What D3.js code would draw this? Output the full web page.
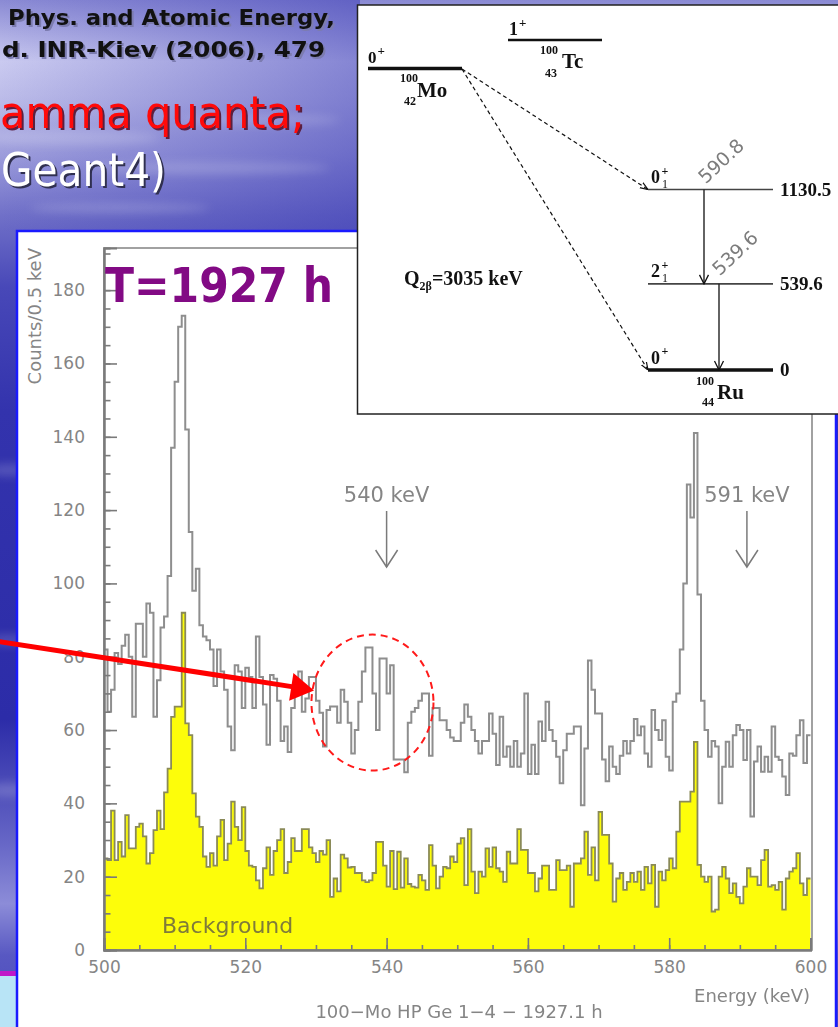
<!DOCTYPE html>
<html>
<head>
<meta charset="utf-8">
<script src="https://cdn.jsdelivr.net/npm/d3@7"></script>
<style>
  html, body { margin: 0; padding: 0; overflow: hidden; background: #ffffff; }
  svg { display: block; }
</style>
</head>
<body>
<svg id="slide" width="838" height="1027"></svg>
<script>
// ---- spectrum data: counts per 0.5 keV bin, 500-600 keV ----
const energyStart = 500;
const binWidth = 0.5;

const measuredCounts = [
  82, 65, 71, 81, 78, 83, 86, 80, 63.6, 89,
  89, 80, 94.5, 92, 63.6, 73.6, 88, 91, 102, 137,
  155, 170, 173, 142, 114, 98, 104, 88.6, 85.5, 84.5,
  82, 72, 82, 76, 71, 61, 54.5, 77.7, 76, 66,
  77, 74.5, 66, 85.5, 74.5, 67, 56, 75, 74, 68,
  57, 61, 54, 66, 72, 76, 65, 68.6, 74.5, 74.5,
  68, 64.7, 55.5, 65.5, 66.4, 66.4, 62, 71, 67.7, 62,
  53.6, 60, 67.7, 76, 82.5, 82.5, 70, 60, 79.5, 79.5,
  70, 77.7, 52, 52, 52, 48.5, 62, 65, 66, 68,
  70, 70, 53, 66, 66, 62.7, 62.7, 60, 58, 57,
  57, 62, 67, 63.6, 60, 57, 53.6, 57, 57, 64.5,
  59, 50.5, 63.6, 52.7, 55.5, 50, 57, 50, 53.6, 70,
  48, 56, 48, 62.3, 57, 67.7, 60, 57, 52.7, 45.5,
  54.5, 59, 59, 61, 61, 39.5, 55, 79, 71, 64.5,
  64.5, 52, 46, 55.5, 50, 48, 53, 57, 53.6, 57,
  63, 58.6, 61, 53.6, 50, 65.5, 60, 57.3, 62.7, 52.7,
  49, 67.7, 70, 82, 100, 127, 118, 141, 97, 68,
  60, 52.7, 57, 55.5, 40, 50, 56.8, 50, 58.6, 61.4,
  60, 51.8, 60, 36.4, 51.4, 55.5, 48.6, 52.7, 48.6, 61,
  52.7, 51.8, 47.3, 42.3, 53.6, 53, 58.6, 62.7, 51, 58.6
];

const backgroundCounts = [
  25, 24.5, 38, 24.5, 29.5, 25.5, 36.8, 27.7, 27.7, 33.6,
  34.5, 31, 23.6, 26.4, 32.7, 38, 33, 43, 49.5, 63.6,
  66.4, 66.4, 92, 61.8, 58.6, 42.7, 36.4, 33.6, 25.5, 22.7,
  26.4, 23, 31, 35.5, 24.5, 29, 40.5, 33.6, 30, 39,
  27, 23, 22.7, 19, 16.8, 22.3, 28, 20.5, 27, 30,
  33, 21, 24, 30.5, 27, 27, 33, 33, 28, 26.4,
  24, 27, 26, 30, 14.5, 19.5, 16, 26, 25, 22.5,
  22.7, 21, 21, 19, 18.5, 19, 21, 29.5, 29.5, 23,
  17.3, 27, 16.6, 26.8, 17, 25, 18, 17.3, 17, 20.5,
  19, 16.4, 28.6, 23, 16.8, 20, 22.7, 22.3, 25.5, 24,
  29, 30.5, 17.7, 33, 21.4, 15.5, 21.4, 20, 27.7, 22.7,
  28, 22.3, 21.4, 18.6, 26.8, 23.6, 23.6, 33, 27.3, 27.3,
  21, 21, 16, 19.5, 23, 23, 16.4, 16.4, 24.5, 21.8,
  21.8, 23, 11.8, 23.6, 23.6, 25, 32.3, 20.5, 28, 19,
  37.7, 31.4, 31.4, 23.6, 13.2, 19.5, 21, 16.4, 18.6, 21,
  18.6, 21.4, 16.4, 22.7, 18.2, 23.2, 11.8, 21.4, 19, 21.8,
  25, 22.3, 32.3, 40.5, 40.5, 40.5, 43.2, 56.8, 23.2, 20,
  18.6, 20, 10.5, 11, 20, 22.7, 19.5, 15.5, 18.2, 14.5,
  12.7, 17.3, 22.3, 20, 20, 17.7, 24.5, 27.3, 17.3, 17.7,
  16.4, 18.6, 11, 19.5, 21.4, 22.3, 26.4, 18.2, 15, 19.5
];

const yMajorTicks = [0, 20, 40, 60, 80, 100, 120, 140, 160, 180];
const xMajorTicks = [500, 520, 540, 560, 580, 600];
const expectedLines = [540, 591];           // keV, marked by arrows
const highlightEnergy = 538;                // centre of the dashed ring
const highlightCounts = 67.5;

// ---- decay scheme data ----
const daughterLevels = [
  { energy: 1130.5, spin: "0", sub: "1", label: "1130.5", heavy: false },
  { energy: 539.6,  spin: "2", sub: "1", label: "539.6",  heavy: false },
  { energy: 0,      spin: "0", sub: "",  label: "0",      heavy: true }
];
const gammaLines = [
  { from: 1130.5, to: 539.6, label: "590.8" },
  { from: 539.6,  to: 0,     label: "539.6" }
];

// ---------------------------------------------------------------
const svg = d3.select("#slide");
const defs = svg.append("defs");

// slide background
const bgGrad = defs.append("linearGradient").attr("id", "slideBg")
  .attr("x1", 0).attr("y1", 0).attr("x2", 0).attr("y2", 1);
[[0, "#8a8ad4"], [0.06, "#cacaf0"], [0.1, "#babae8"], [0.15, "#9d9ddc"],
 [0.21, "#7070c8"], [0.28, "#4848b8"], [0.4, "#3333ad"], [0.7, "#2c2ca8"],
 [0.82, "#6666c6"], [0.88, "#8c8cd8"], [0.93, "#5858c2"], [1, "#4a4abb"]]
  .forEach(([o, c]) => bgGrad.append("stop").attr("offset", o).attr("stop-color", c));
const shade = defs.append("linearGradient").attr("id", "slideShade")
  .attr("x1", 0).attr("y1", 0).attr("x2", 1).attr("y2", 0);
shade.append("stop").attr("offset", 0).attr("stop-color", "#3030b0").attr("stop-opacity", 0);
shade.append("stop").attr("offset", 1).attr("stop-color", "#3030b0").attr("stop-opacity", 0.45);
defs.append("filter").attr("id", "soft").attr("x", "-50%").attr("y", "-50%")
  .attr("width", "200%").attr("height", "200%")
  .append("feGaussianBlur").attr("stdDeviation", 5);

svg.append("rect").attr("width", 838).attr("height", 1027).attr("fill", "url(#slideBg)");
svg.append("rect").attr("width", 360).attr("height", 232).attr("fill", "url(#slideShade)");
const streaks = [[70, 138, 90, 7], [210, 168, 120, 6], [120, 208, 90, 5], [260, 120, 80, 5],
                 [8, 470, 20, 6], [8, 640, 20, 5], [8, 790, 20, 7]];
svg.append("g").attr("filter", "url(#soft)").selectAll("ellipse").data(streaks).join("ellipse")
  .attr("cx", d => d[0]).attr("cy", d => d[1]).attr("rx", d => d[2]).attr("ry", d => d[3])
  .attr("fill", "#ffffff").attr("opacity", 0.18);
svg.append("rect").attr("x", 0).attr("y", 971).attr("width", 17).attr("height", 5).attr("fill", "#c018c8");
svg.append("rect").attr("x", 0).attr("y", 976).attr("width", 17).attr("height", 51).attr("fill", "#b8e4f6");

// chart panel
svg.append("rect").attr("x", 17).attr("y", 231).attr("width", 819).attr("height", 810)
  .attr("fill", "#ffffff").attr("stroke", "#1a1aff").attr("stroke-width", 2.5);

// ---- spectrum ----
const x = d3.scaleLinear().domain([500, 600]).range([104, 810.5]);
const y = d3.scaleLinear().domain([0, 191.5]).range([950, 248]);
const plot = svg.append("g");

const toPoints = arr => {
  const pts = arr.map((v, i) => [energyStart + i * binWidth, v]);
  pts.push([energyStart + arr.length * binWidth, arr[arr.length - 1]]);
  return pts;
};
const bgPts = toPoints(backgroundCounts);
const msPts = toPoints(measuredCounts);

plot.append("path").datum(bgPts)
  .attr("d", d3.area().x(d => x(d[0])).y0(y(0)).y1(d => y(d[1])).curve(d3.curveStepAfter))
  .attr("fill", "#fdfd0a");
plot.append("path").datum(bgPts)
  .attr("d", d3.line().x(d => x(d[0])).y(d => y(d[1])).curve(d3.curveStepAfter))
  .attr("fill", "none").attr("stroke", "#8a8a58").attr("stroke-width", 1.8);
plot.append("path").datum(msPts)
  .attr("d", d3.line().x(d => x(d[0])).y(d => y(d[1])).curve(d3.curveStepAfter))
  .attr("fill", "none").attr("stroke", "#8e8e8e").attr("stroke-width", 2);

// frame
plot.append("rect").attr("x", 104).attr("y", 248).attr("width", 708).attr("height", 702)
  .attr("fill", "none").attr("stroke", "#8a8a8a").attr("stroke-width", 1.6);

const axisFont = "'DejaVu Sans', sans-serif";
const gray = "#858585";

// y axis (ticks point into the plot)
const yMinor = d3.range(0, 191, 5);
const yAxisMinor = plot.append("g").attr("transform", "translate(104,0)")
  .call(d3.axisLeft(y).tickValues(yMinor).tickSize(-6.5).tickFormat(""));
const yAxis = plot.append("g").attr("transform", "translate(104,0)")
  .call(d3.axisLeft(y).tickValues(yMajorTicks).tickSize(-13).tickPadding(19));
[yAxisMinor, yAxis].forEach(g => {
  g.select(".domain").attr("stroke", "#7a7a7a").attr("stroke-width", 2);
  g.selectAll(".tick line").attr("stroke", "#7a7a7a").attr("stroke-width", 1.6);
});
yAxis.selectAll("text").attr("font-family", axisFont).attr("font-size", 17).attr("fill", gray);

// x axis
const xAxisMinor = plot.append("g").attr("transform", "translate(0,950)")
  .call(d3.axisBottom(x).tickValues(d3.range(500, 601, 5)).tickSize(-5).tickFormat(""));
const xAxis = plot.append("g").attr("transform", "translate(0,950)")
  .call(d3.axisBottom(x).tickValues(xMajorTicks).tickSize(-12).tickPadding(11));
[xAxisMinor, xAxis].forEach(g => {
  g.select(".domain").attr("stroke", "#7a7a7a").attr("stroke-width", 2);
  g.selectAll(".tick line").attr("stroke", "#7a7a7a").attr("stroke-width", 1.6);
});
xAxis.selectAll("text").attr("font-family", axisFont).attr("font-size", 17).attr("fill", gray);

// axis titles
plot.append("text").attr("transform", "translate(41,248) rotate(-90)")
  .attr("text-anchor", "end").attr("font-family", axisFont).attr("font-size", 18)
  .attr("fill", gray).text("Counts/0.5 keV");
plot.append("text").attr("x", 810).attr("y", 1002).attr("text-anchor", "end")
  .attr("font-family", axisFont).attr("font-size", 18).attr("fill", gray).text("Energy (keV)");
plot.append("text").attr("x", 459).attr("y", 1018).attr("text-anchor", "middle")
  .attr("font-family", axisFont).attr("font-size", 18).attr("fill", gray)
  .text("100\u2212Mo HP Ge 1\u22124 \u2212 1927.1 h");
plot.append("text").attr("x", 162).attr("y", 933)
  .attr("font-family", axisFont).attr("font-size", 22).attr("fill", "#7f7b3a").text("Background");

// expected-line arrows
defs.append("marker").attr("id", "openV").attr("viewBox", "-12 -18 24 20")
  .attr("refX", 0).attr("refY", 0).attr("markerUnits", "userSpaceOnUse")
  .attr("markerWidth", 24).attr("markerHeight", 20).attr("orient", 0)
  .append("path").attr("d", "M-11,-17 L0,0 L11,-17").attr("fill", "none")
  .attr("stroke", "#7a7a7a").attr("stroke-width", 1.5);
const markers = plot.append("g").selectAll("g").data(expectedLines).join("g");
markers.append("line").attr("x1", d => x(d)).attr("x2", d => x(d))
  .attr("y1", 511).attr("y2", 567).attr("stroke", "#7a7a7a").attr("stroke-width", 1.5)
  .attr("marker-end", "url(#openV)");
markers.append("text").attr("x", d => x(d)).attr("y", 502).attr("text-anchor", "middle")
  .attr("font-family", axisFont).attr("font-size", 21).attr("fill", gray)
  .text(d => d + " keV");

// exposure label
svg.append("text").attr("x", 105).attr("y", 302)
  .attr("font-family", "'DejaVu Sans', sans-serif").attr("font-weight", "bold")
  .attr("font-size", 48).attr("fill", "#820a84")
  .attr("textLength", 228).attr("lengthAdjust", "spacingAndGlyphs").text("T=1927 h");

// ---- decay scheme inset ----
const ins = svg.append("g");
ins.append("rect").attr("x", 357.5).attr("y", 5).attr("width", 495).attr("height", 409)
  .attr("fill", "#ffffff").attr("stroke", "#222222").attr("stroke-width", 1.5);
const serif = "'Liberation Serif', 'Times New Roman', serif";
const txt = (xx, yy, s, size, bold = true, anchor = "start") =>
  ins.append("text").attr("x", xx).attr("y", yy).attr("font-family", serif)
    .attr("font-weight", bold ? "bold" : "normal").attr("font-size", size)
    .attr("text-anchor", anchor).attr("fill", "#111").text(s);

// parent levels
ins.append("line").attr("x1", 368).attr("x2", 462).attr("y1", 68.5).attr("y2", 68.5)
  .attr("stroke", "#111").attr("stroke-width", 3.5);
txt(368, 63, "0", 17); txt(377.5, 55, "+", 13);
txt(400, 82, "100", 12); txt(404, 105, "42", 12); txt(417, 97, "Mo", 21);
ins.append("line").attr("x1", 508).attr("x2", 602).attr("y1", 40).attr("y2", 40)
  .attr("stroke", "#111").attr("stroke-width", 2.5);
txt(509, 35, "1", 18); txt(519, 27, "+", 13);
txt(540, 54, "100", 12); txt(545, 77, "43", 12); txt(562, 68, "Tc", 21);
ins.append("text").attr("x", 404).attr("y", 285).attr("font-family", serif)
  .attr("font-weight", "bold").attr("font-size", 20).attr("fill", "#111")
  .call(t => {
    t.append("tspan").text("Q");
    t.append("tspan").attr("font-size", 12).attr("dy", 5).text("2\u03b2");
    t.append("tspan").attr("dy", -5).text("=3035 keV");
  });

// daughter levels
const levelY = d3.scaleLinear().domain([0, 1130.5]).range([370, 189.5]);
const lv = ins.append("g").selectAll("g").data(daughterLevels).join("g");
lv.append("line").attr("x1", 648).attr("x2", 773)
  .attr("y1", d => levelY(d.energy)).attr("y2", d => levelY(d.energy))
  .attr("stroke", d => d.heavy ? "#111" : "#444").attr("stroke-width", d => d.heavy ? 3.5 : 1.6);
lv.append("text").attr("x", 651).attr("y", d => levelY(d.energy) - 6.5)
  .attr("font-family", serif).attr("font-weight", "bold").attr("font-size", 18).attr("fill", "#111")
  .text(d => d.spin);
lv.append("text").attr("x", 661.5).attr("y", d => levelY(d.energy) - 15)
  .attr("font-family", serif).attr("font-weight", "bold").attr("font-size", 12).attr("fill", "#111")
  .text("+");
lv.append("text").attr("x", 662).attr("y", d => levelY(d.energy) - 2)
  .attr("font-family", serif).attr("font-size", 12).attr("fill", "#111")
  .text(d => d.sub);
lv.append("text").attr("x", 780).attr("y", d => levelY(d.energy) + 6)
  .attr("font-family", serif).attr("font-weight", "bold").attr("font-size", 19).attr("fill", "#111")
  .text(d => d.label);
txt(696, 385, "100", 12); txt(702, 406, "44", 12); txt(717, 399, "Ru", 21);

// beta-beta branches (dashed)
defs.append("marker").attr("id", "dashHead").attr("viewBox", "0 -4 8 8")
  .attr("refX", 8).attr("refY", 0).attr("markerUnits", "userSpaceOnUse")
  .attr("markerWidth", 8).attr("markerHeight", 8).attr("orient", "auto")
  .append("path").attr("d", "M0,-3 L8,0 L0,3").attr("fill", "none")
  .attr("stroke", "#111").attr("stroke-width", 1.2);
[1130.5, 0].forEach(e => {
  ins.append("line").attr("x1", 462).attr("y1", 69).attr("x2", 648).attr("y2", levelY(e))
    .attr("stroke", "#111").attr("stroke-width", 1.2).attr("stroke-dasharray", "4,3")
    .attr("marker-end", "url(#dashHead)");
});

// gamma transitions
defs.append("marker").attr("id", "gHead").attr("viewBox", "-6 -10 12 11")
  .attr("refX", 0).attr("refY", 0).attr("markerUnits", "userSpaceOnUse")
  .attr("markerWidth", 12).attr("markerHeight", 11).attr("orient", 0)
  .append("path").attr("d", "M-4.5,-9 L0,0 L4.5,-9").attr("fill", "none")
  .attr("stroke", "#111").attr("stroke-width", 1.3);
const gx = [704, 719];
const gammaLabelPos = [[721, 161], [735, 253]];
gammaLines.forEach((g, i) => {
  ins.append("line").attr("x1", gx[i]).attr("x2", gx[i])
    .attr("y1", levelY(g.from)).attr("y2", levelY(g.to))
    .attr("stroke", "#222").attr("stroke-width", 1.4).attr("marker-end", "url(#gHead)");
  ins.append("text")
    .attr("transform", `translate(${gammaLabelPos[i][0]},${gammaLabelPos[i][1]}) rotate(-43)`)
    .attr("text-anchor", "middle").attr("dy", "0.35em")
    .attr("font-family", "'DejaVu Sans', sans-serif").attr("font-size", 19)
    .attr("fill", "#7c7c7c").text(g.label);
});

// ---- slide titles ----
const title = (xx, yy, s, size, fill, shadow, len, weight) => {
  [[shadow, 2], [fill, 0]].forEach(([c, off]) => {
    svg.append("text").attr("x", xx + off).attr("y", yy + off)
      .attr("font-family", "'DejaVu Sans', sans-serif").attr("font-weight", weight)
      .attr("font-size", size).attr("fill", c)
      .attr("textLength", len).attr("lengthAdjust", "spacingAndGlyphs").text(s);
  });
};
title(8, 25, "Phys. and Atomic Energy,", 22, "#111111", "#7c7cb0", 327, "bold");
title(2, 57, "d. INR-Kiev (2006), 479", 22, "#111111", "#7c7cb0", 323, "bold");
title(0, 128, "amma quanta;", 44, "#ff0a0a", "#5a2040", 305, "normal");
title(1, 186, "Geant4)", 46, "#ffffff", "#303050", 165, "normal");

// ---- annotation: pointer and ring ----
const ann = svg.append("g");
ann.append("ellipse").attr("cx", x(highlightEnergy)).attr("cy", y(highlightCounts))
  .attr("rx", 61).attr("ry", 68).attr("fill", "none")
  .attr("stroke", "#ff1a1a").attr("stroke-width", 2).attr("stroke-dasharray", "7,5");
const from = [-10, 640.2], to = [314, 690.4];
const ang = Math.atan2(to[1] - from[1], to[0] - from[0]);
const headLen = 23, headHalf = 14;
const base = [to[0] - headLen * Math.cos(ang), to[1] - headLen * Math.sin(ang)];
ann.append("line").attr("x1", from[0]).attr("y1", from[1]).attr("x2", base[0] + 2).attr("y2", base[1])
  .attr("stroke", "#ff0000").attr("stroke-width", 5);
ann.append("polygon").attr("points", [
  to,
  [base[0] + headHalf * Math.sin(ang), base[1] - headHalf * Math.cos(ang)],
  [base[0] - headHalf * Math.sin(ang), base[1] + headHalf * Math.cos(ang)]
].map(p => p.join(",")).join(" ")).attr("fill", "#ff0000");
</script>
</body>
</html>
